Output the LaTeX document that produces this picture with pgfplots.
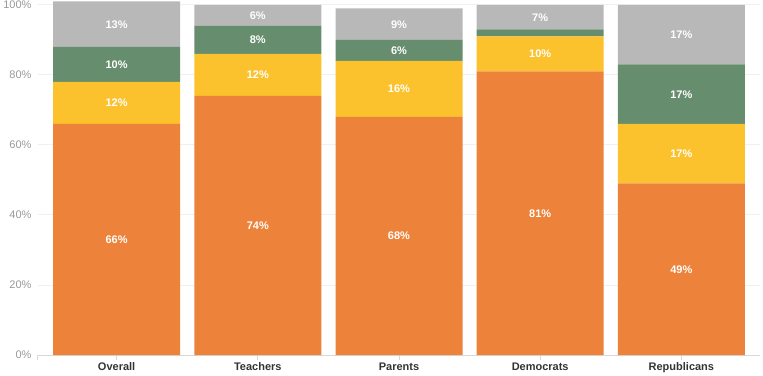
\documentclass[border=0pt]{standalone}
\usepackage{pgfplots}
\pgfplotsset{compat=1.18}
\usepackage{fontspec}
\setmainfont{Liberation Sans}
\definecolor{cOr}{HTML}{ED823A}
\definecolor{cYe}{HTML}{FBC22E}
\definecolor{cGr}{HTML}{668E6E}
\definecolor{cGy}{HTML}{B8B8B8}
\definecolor{cTick}{HTML}{999999}
\definecolor{cLab}{HTML}{333333}
\definecolor{cGrid}{HTML}{F0F0F0}
\definecolor{cAx}{HTML}{D8D8D8}
\begin{document}
\begin{tikzpicture}
\useasboundingbox (-38pt,-20pt) rectangle (725pt,355pt);
\begin{axis}[
  at={(0,0)}, anchor=south west,
  width=722pt, height=350pt, scale only axis,
  ybar stacked, bar width=127pt,
  xmin=-0.557, xmax=4.557, ymin=0, ymax=100,
  clip=false,
  xtick={0,1,2,3,4},
  xticklabels={Overall,Teachers,Parents,Democrats,Republicans},
  extra x ticks={-0.557}, extra x tick labels={},
  ytick={0,20,40,60,80,100},
  yticklabel={\pgfmathprintnumber{\tick}\%},
  /pgf/number format/assume math mode=true,
  ymajorgrids, grid style={color=cGrid, line width=1pt},
  axis x line*=bottom, axis y line*=left,
  y axis line style={draw=none},
  ytick style={draw=none},
  x axis line style={color=cAx, line width=1pt, -},
  xtick style={color=cAx, line width=1pt},
  extra x tick style={tick style={color=cAx, line width=1pt}},
  xtick align=outside, major tick length=5pt,
  yticklabel style={color=cTick, font=\fontsize{11}{13}\selectfont, xshift=-3pt},
  xticklabel style={color=cLab, font=\bfseries\fontsize{11}{13}\selectfont, yshift=1pt},
  nodes near coords,
  point meta=explicit symbolic,
  every node near coord/.append style={anchor=center, font=\bfseries\fontsize{11}{13}\selectfont, text=white},
]
\addplot[fill=cOr, draw=none] coordinates {(0,66)[66\%] (1,74)[74\%] (2,68)[68\%] (3,81)[81\%] (4,49)[49\%]};
\addplot[fill=cYe, draw=none] coordinates {(0,12)[12\%] (1,12)[12\%] (2,16)[16\%] (3,10)[10\%] (4,17)[17\%]};
\addplot[fill=cGr, draw=none] coordinates {(0,10)[10\%] (1,8)[8\%] (2,6)[6\%] (3,2)[{}] (4,17)[17\%]};
\addplot[fill=cGy, draw=none] coordinates {(0,13)[13\%] (1,6)[6\%] (2,9)[9\%] (3,7)[7\%] (4,17)[17\%]};
\end{axis}
\end{tikzpicture}
\end{document}
